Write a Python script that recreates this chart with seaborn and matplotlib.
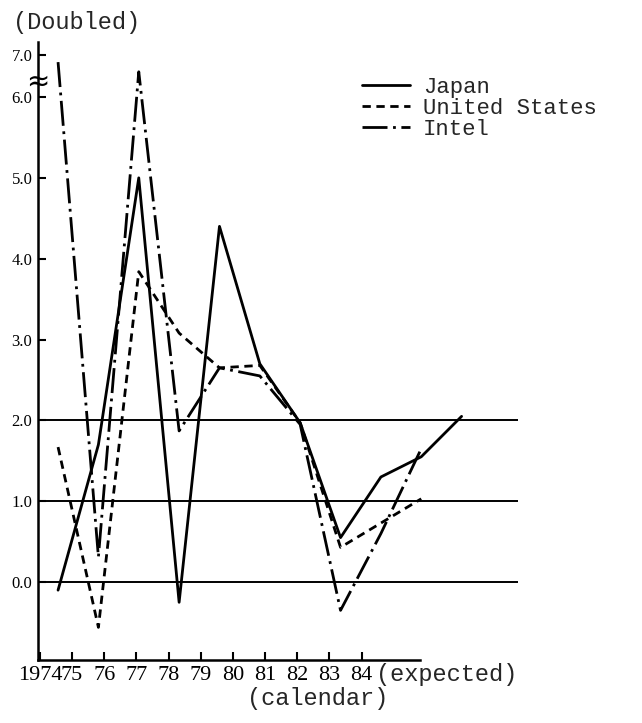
import numpy as np
import pandas as pd
import matplotlib
matplotlib.use("Agg")
import matplotlib.pyplot as plt
import matplotlib.transforms as mtransforms
import seaborn as sns

# Values (growth rate, "doubled"), 1974-84 (84 expected)
years = [1974, 1975, 1976, 1977, 1978, 1979, 1980, 1981, 1982, 1983, 1984]
japan = [-0.1, 1.7, 5.0, -0.25, 4.4, 2.7, 1.97, 0.55, 1.3, 1.55, 2.05]
united_states = [1.67, -0.56, 3.84, 3.08, 2.65, 2.68, 1.97, 0.43, 0.73, 1.03, np.nan]
intel = [6.83, 0.31, 6.6, 1.87, 2.65, 2.55, 1.95, -0.35, 0.6, 1.65, np.nan]

series_names = ["Japan", "United States", "Intel"]
year_labels = ["1974", "75", "76", "77", "78", "79", "80", "81", "82", "83", "84"]
y_ticks = [0, 1, 2, 3, 4, 5, 6, 7]
ref_lines = [0, 1, 2]

df = pd.DataFrame({
    "year": years * 3,
    "value": japan + united_states + intel,
    "series": [s for s in series_names for _ in years],
}).dropna()

# y axis is broken above 6.0 (compressed)
BREAK = 6.0
SQUEEZE = 0.52


def fwd(v):
    v = np.asarray(v, dtype=float)
    return np.where(v <= BREAK, v, BREAK + (v - BREAK) * SQUEEZE)


def inv(t):
    t = np.asarray(t, dtype=float)
    return np.where(t <= BREAK, t, BREAK + (t - BREAK) / SQUEEZE)


sns.set_theme(style="white")
plt.rcParams["font.family"] = ["Liberation Mono", "DejaVu Sans Mono"]

fig = plt.figure(figsize=(6.42, 7.23), dpi=100)
ax = fig.add_axes([0.059, 0.087, 0.748, 0.855])
ax.set_yscale("function", functions=(fwd, inv))

sns.lineplot(data=df, x="year", y="value", style="series",
             style_order=series_names,
             dashes={"Japan": "", "United States": (3, 2),
                     "Intel": (9, 2, 1, 2)},
             color="black", linewidth=2, sort=False, ax=ax)

for v in ref_lines:
    ax.axhline(v, color="black", linewidth=1.4, zorder=1)

ax.set_xlim(1973.5, 1985.4)
ax.set_ylim(-0.965, 7.31)
ax.set_xlabel("")
ax.set_ylabel("")

# axes / spines
for side in ["top", "right"]:
    ax.spines[side].set_visible(False)
for side in ["left", "bottom"]:
    ax.spines[side].set_color("black")
    ax.spines[side].set_linewidth(1.8)
ax.spines["bottom"].set_bounds(1973.5, 1982.96)

# year ticks sit compressed under the axis in the original
tick_start, tick_step = 1973.55, 0.797
ax.set_xticks([tick_start + tick_step * i for i in range(len(year_labels))])
ax.set_xticklabels(year_labels, family=["Liberation Serif", "DejaVu Serif"],
                   fontsize=16)
ax.set_yticks(y_ticks)
ax.set_yticklabels([f"{t:.1f}" for t in y_ticks],
                   family=["Liberation Serif", "DejaVu Serif"], fontsize=12)
ax.tick_params(axis="both", direction="in", length=6, width=1.5,
               colors="black", left=True, bottom=True)
ax.tick_params(axis="x", pad=4)
ax.tick_params(axis="y", pad=4)

# break mark on the y axis
trans = mtransforms.blended_transform_factory(ax.transAxes, ax.transData)
ax.text(0, 6.36, "\u2248", transform=trans, ha="center", va="center",
        fontsize=20, family=["DejaVu Sans"], color="black", zorder=5)

# legend
leg = ax.get_legend()
handles = leg.legend_handles
labels = [t.get_text() for t in leg.get_texts()]
ax.legend(handles, labels, loc="upper left", frameon=False,
          bbox_to_anchor=(362 / 642, 1 - 77 / 723),
          bbox_transform=fig.transFigure, fontsize=16,
          handlelength=2.15, handletextpad=0.6, labelspacing=0.0,
          borderpad=0, borderaxespad=0)

fig.text(13 / 642, 1 - 23 / 723, "(Doubled)", fontsize=17,
         ha="left", va="center")
fig.text(376 / 642, 1 - 675 / 723, "(expected)", fontsize=17,
         ha="left", va="center")
fig.text(318 / 642, 1 - 698 / 723, "(calendar)", fontsize=17,
         ha="center", va="center")

fig.savefig("out.png", dpi=100)
